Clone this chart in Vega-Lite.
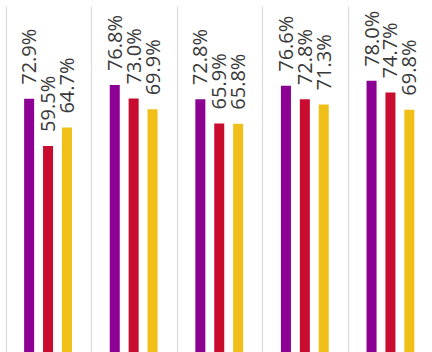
{
  "$schema": "https://vega.github.io/schema/vega-lite/v6.json",
  "autosize": "none",
  "padding": {"left": 6, "top": 6, "right": 0, "bottom": 0},
  "width": 428,
  "height": 349,
  "background": "white",
  "config": {"view": {"stroke": null}},
  "data": {
    "values": [
      {"group": "G1", "series": "A", "value": 72.9, "label": "72.9%"},
      {"group": "G1", "series": "B", "value": 59.5, "label": "59.5%"},
      {"group": "G1", "series": "C", "value": 64.7, "label": "64.7%"},
      {"group": "G2", "series": "A", "value": 76.8, "label": "76.8%"},
      {"group": "G2", "series": "B", "value": 73.0, "label": "73.0%"},
      {"group": "G2", "series": "C", "value": 69.9, "label": "69.9%"},
      {"group": "G3", "series": "A", "value": 72.8, "label": "72.8%"},
      {"group": "G3", "series": "B", "value": 65.9, "label": "65.9%"},
      {"group": "G3", "series": "C", "value": 65.8, "label": "65.8%"},
      {"group": "G4", "series": "A", "value": 76.6, "label": "76.6%"},
      {"group": "G4", "series": "B", "value": 72.8, "label": "72.8%"},
      {"group": "G4", "series": "C", "value": 71.3, "label": "71.3%"},
      {"group": "G5", "series": "A", "value": 78.0, "label": "78.0%"},
      {"group": "G5", "series": "B", "value": 74.7, "label": "74.7%"},
      {"group": "G5", "series": "C", "value": 69.8, "label": "69.8%"}
    ]
  },
  "encoding": {
    "x": {
      "field": "group", "type": "nominal",
      "scale": {"paddingInner": 0, "paddingOuter": 0},
      "axis": {"grid": true, "bandPosition": 0, "gridColor": "#dcdcdc", "gridWidth": 1.2, "labels": false, "ticks": false, "domain": false, "title": null}
    },
    "xOffset": {
      "field": "series", "type": "nominal",
      "scale": {"paddingInner": 0.47, "paddingOuter": 1.18, "align": 0.48}
    },
    "y": {
      "field": "value", "type": "quantitative",
      "scale": {"domain": [0, 99.3], "nice": false, "zero": true},
      "axis": null
    }
  },
  "layer": [
    {
      "mark": {"type": "bar"},
      "encoding": {
        "color": {
          "field": "series", "type": "nominal",
          "scale": {"domain": ["A", "B", "C"], "range": ["#8C0094", "#C80C30", "#F0C018"]},
          "legend": null
        }
      }
    },
    {
      "mark": {"type": "text", "angle": 270, "align": "left", "baseline": "middle", "dx": 14, "dy": 1, "fontSize": 20, "font": "Open Sans", "color": "#3a3a3a"},
      "encoding": {
        "text": {"field": "label"}
      }
    }
  ]
}
